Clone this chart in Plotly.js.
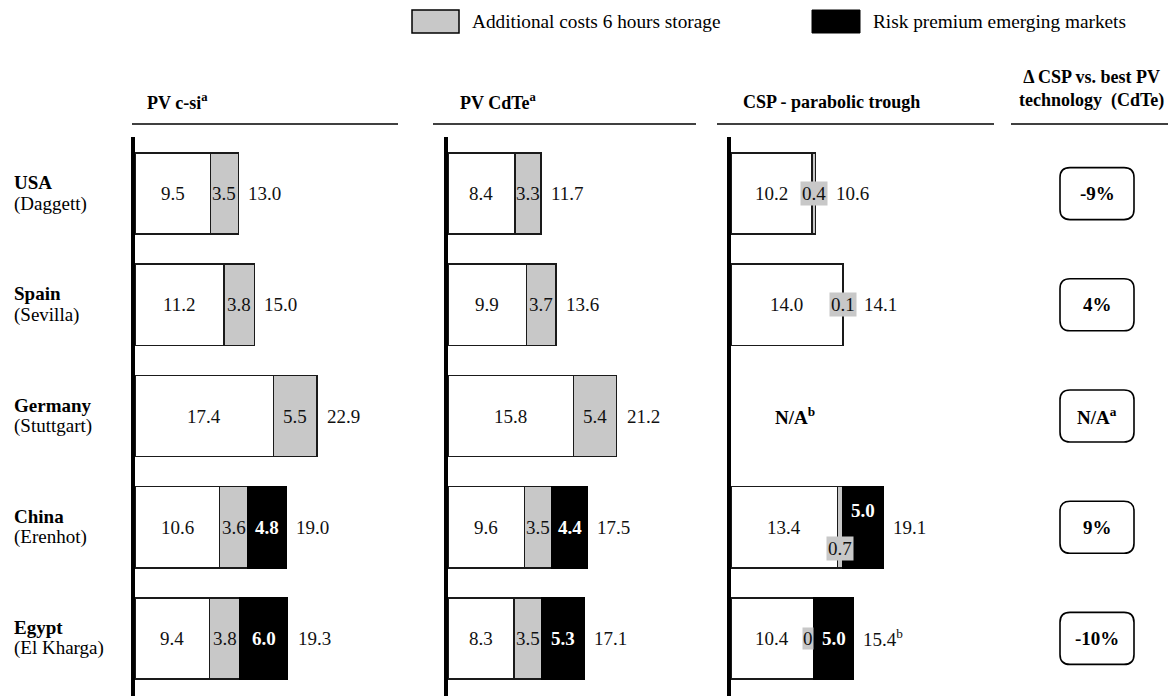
<!DOCTYPE html>
<html>
<head>
<meta charset="utf-8">
<script src="https://cdn.plot.ly/plotly-3.0.1.min.js"></script>
<style>html,body{margin:0;padding:0;background:#fff;}#chart{width:1173px;height:696px;}</style>
</head>
<body>
<div id="chart"></div>
<script>
// ---------------- data ----------------
const countries = ['USA', 'Spain', 'Germany', 'China', 'Egypt'];
const cities = ['(Daggett)', '(Sevilla)', '(Stuttgart)', '(Erenhot)', '(El Kharga)'];

const csiBase    = [9.5, 11.2, 17.4, 10.6, 9.4];
const csiStorage = [3.5, 3.8, 5.5, 3.6, 3.8];
const csiRisk    = [null, null, null, 4.8, 6.0];
const csiTotal   = [13.0, 15.0, 22.9, 19.0, 19.3];

const cdteBase    = [8.4, 9.9, 15.8, 9.6, 8.3];
const cdteStorage = [3.3, 3.7, 5.4, 3.5, 3.5];
const cdteRisk    = [null, null, null, 4.4, 5.3];
const cdteTotal   = [11.7, 13.6, 21.2, 17.5, 17.1];

const cspBase    = [10.2, 14.0, null, 13.4, 10.4];
const cspStorage = [0.4, 0.1, null, 0.7, 0];
const cspRisk    = [null, null, null, 5.0, 5.0];
const cspTotal   = [10.6, 14.1, null, 19.1, 15.4];
const cspNotes   = ['', '', 'N/A<sup>b</sup>', '', 'b'];

const deltaLabels = ['-9%', '4%', 'N/A<sup>a</sup>', '9%', '-10%'];

const panelTitles = ['PV c-si<sup>a</sup>', 'PV CdTe<sup>a</sup>', 'CSP - parabolic trough'];
const deltaTitle = '\u0394 CSP vs. best PV<br>technology  (CdTe)';
const legendLabels = ['Additional costs 6 hours storage', 'Risk premium emerging markets'];

// ---------------- layout helpers ----------------
const W = 1173, H = 696;
const M = {l: 0, r: 0, t: 138, b: 2};
const plotH = H - M.t - M.b;
const px = v => v / W;
const py = v => (H - M.b - v) / plotH;

const FONT = 'Liberation Serif, Times New Roman, Times, serif';
const GRAY = '#c8c8c8';
const EDGE = '#1a1a1a';
const FS = 19;

const panels = [
  {xa: 'x',  base: csiBase,  stor: csiStorage,  risk: csiRisk,  total: csiTotal,  start: 135, line: [132, 398], csp: false},
  {xa: 'x2', base: cdteBase, stor: cdteStorage, risk: cdteRisk, total: cdteTotal, start: 448, line: [433, 696], csp: false},
  {xa: 'x3', base: cspBase,  stor: cspStorage,  risk: cspRisk,  total: cspTotal,  start: 731, line: [717, 994], csp: true}
];
const UNIT = 7.95, RANGE = 33;

const traces = [];
const annotations = [];
const shapes = [];

panels.forEach((p, k) => {
  const ya = 'y';
  const common = {type: 'bar', orientation: 'h', y: countries, xaxis: p.xa, yaxis: ya,
                  width: 0.73, hoverinfo: 'skip', showlegend: false};
  traces.push(Object.assign({}, common, {x: p.base, marker: {color: '#ffffff', line: {color: EDGE, width: 1.5}}}));
  traces.push(Object.assign({}, common, {x: p.stor, marker: {color: GRAY, line: {color: EDGE, width: 1.5}}}));
  traces.push(Object.assign({}, common, {x: p.risk, marker: {color: '#000000', line: {color: '#000000', width: 1.5}}}));

  countries.forEach((c, i) => {
    const b = p.base[i], s = p.stor[i], r = p.risk[i], t = p.total[i];
    if (b === null) return;
    const txt = {font: {family: FONT, size: FS, color: '#111'}, showarrow: false, xref: p.xa, yref: ya, y: c};
    annotations.push(Object.assign({}, txt, {x: b / 2, text: b.toFixed(1)}));
    const smallStor = p.csp && s < 1;
    const sAnn = Object.assign({}, txt, {x: b + s / 2, text: s === 0 ? '0' : s.toFixed(1)});
    if (smallStor) { sAnn.bgcolor = GRAY; sAnn.borderpad = 1; }
    if (s === 0) { sAnn.x = b; sAnn.xanchor = 'right'; sAnn.borderpad = 0; }
    const split = smallStor && r !== null && s > 0;
    if (split) sAnn.yshift = -21;
    annotations.push(sAnn);
    if (r !== null) {
      annotations.push(Object.assign({}, txt, {x: b + s + r / 2, text: '<b>' + r.toFixed(1) + '</b>',
        font: {family: FONT, size: FS, color: '#ffffff'}, yshift: split ? 17 : 0}));
    }
    const note = p.csp && cspNotes[i] ? '<sup>' + cspNotes[i] + '</sup>' : '';
    annotations.push(Object.assign({}, txt, {x: t, xanchor: 'left', xshift: (smallStor && r === null) ? 19 : 8,
      text: t.toFixed(1) + note}));
  });

  // thick vertical axis line
  shapes.push({type: 'line', xref: 'paper', yref: 'paper', x0: px(p.start - 2), x1: px(p.start - 2),
    y0: py(137), y1: py(696), line: {color: '#000', width: 4}});
  // heading line and heading
  shapes.push({type: 'line', xref: 'paper', yref: 'paper', x0: px(p.line[0]), x1: px(p.line[1]),
    y0: py(124), y1: py(124), line: {color: '#000', width: 1.6}});
  annotations.push({xref: 'paper', yref: 'paper', x: px(p.start + 10), y: py(102), xanchor: 'left', yanchor: 'middle',
    text: '<b>' + panelTitles[k] + '</b>', showarrow: false, font: {family: FONT, size: 18, color: '#000'}});
});

// N/A for Germany CSP
countries.forEach((c, i) => {
  if (cspBase[i] === null) {
    annotations.push({xref: 'x3', yref: 'y', x: 8, y: c, text: '<b>' + cspNotes[i] + '</b>', showarrow: false,
      font: {family: FONT, size: FS, color: '#000'}});
  }
});

// country labels
countries.forEach((c, i) => {
  annotations.push({xref: 'paper', yref: 'y', x: px(12), y: c, xanchor: 'left', yshift: 11, text: '<b>' + c + '</b>',
    showarrow: false, font: {family: FONT, size: FS, color: '#000'}});
  annotations.push({xref: 'paper', yref: 'y', x: px(12), y: c, xanchor: 'left', yshift: -10, text: cities[i],
    showarrow: false, font: {family: FONT, size: FS, color: '#000'}});
});

// delta column
shapes.push({type: 'line', xref: 'paper', yref: 'paper', x0: px(1011), x1: px(1168), y0: py(124), y1: py(124),
  line: {color: '#000', width: 1.6}});
annotations.push({xref: 'paper', yref: 'paper', x: px(1091), y: py(89), xanchor: 'center', yanchor: 'middle',
  text: '<b>' + deltaTitle + '</b>', showarrow: false, font: {family: FONT, size: 18, color: '#000'}});
const bw = 37, bh = 26, rr = 10;
const boxPath = `M ${-bw + rr},${-bh} L ${bw - rr},${-bh} Q ${bw},${-bh} ${bw},${-bh + rr} L ${bw},${bh - rr} Q ${bw},${bh} ${bw - rr},${bh} L ${-bw + rr},${bh} Q ${-bw},${bh} ${-bw},${bh - rr} L ${-bw},${-bh + rr} Q ${-bw},${-bh} ${-bw + rr},${-bh} Z`;
countries.forEach((c, i) => {
  shapes.push({type: 'path', xref: 'paper', yref: 'y', xsizemode: 'pixel', ysizemode: 'pixel',
    xanchor: px(1097), yanchor: i, path: boxPath, line: {color: '#000', width: 1.6}, fillcolor: 'rgba(0,0,0,0)'});
  annotations.push({xref: 'paper', yref: 'y', x: px(1097), y: c, xanchor: 'center', text: '<b>' + deltaLabels[i] + '</b>',
    showarrow: false, font: {family: FONT, size: FS, color: '#000'}});
});

// legend
shapes.push({type: 'rect', xref: 'paper', yref: 'paper', x0: px(412), x1: px(459), y0: py(10), y1: py(33),
  fillcolor: GRAY, line: {color: '#000', width: 1.5}});
shapes.push({type: 'rect', xref: 'paper', yref: 'paper', x0: px(812), x1: px(860), y0: py(10), y1: py(33),
  fillcolor: '#000', line: {color: '#000', width: 1}});
annotations.push({xref: 'paper', yref: 'paper', x: px(470), y: py(22), xanchor: 'left', yanchor: 'middle',
  text: legendLabels[0], showarrow: false, font: {family: FONT, size: 19.3, color: '#000'}});
annotations.push({xref: 'paper', yref: 'paper', x: px(871), y: py(22), xanchor: 'left', yanchor: 'middle',
  text: legendLabels[1], showarrow: false, font: {family: FONT, size: 19.3, color: '#000'}});

const hiddenX = (a) => ({domain: [px(a), px(a + RANGE * UNIT)], range: [0, RANGE], visible: false,
  fixedrange: true, anchor: 'y', showgrid: false, zeroline: false});

const layout = {
  width: W, height: H,
  margin: M,
  paper_bgcolor: '#fff', plot_bgcolor: 'rgba(0,0,0,0)',
  barmode: 'stack',
  showlegend: false,
  xaxis: hiddenX(135),
  xaxis2: hiddenX(448),
  xaxis3: hiddenX(731),
  yaxis: {type: 'category', categoryorder: 'array', categoryarray: countries, range: [4.5, -0.5],
    visible: false, showgrid: false, zeroline: false, fixedrange: true, domain: [0, 1]},
  shapes: shapes,
  annotations: annotations,
  font: {family: FONT}
};

Plotly.newPlot('chart', traces, layout, {staticPlot: true, displayModeBar: false});
</script>
</body>
</html>
